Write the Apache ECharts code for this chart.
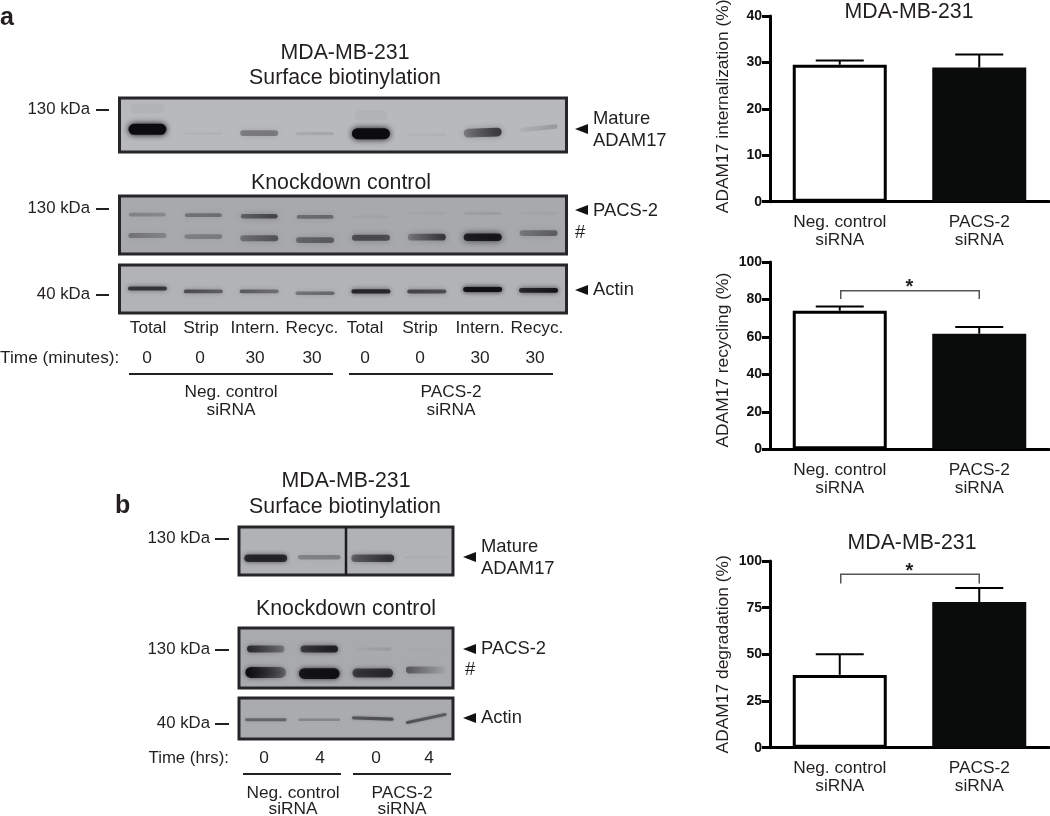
<!DOCTYPE html>
<html><head><meta charset="utf-8">
<style>html,body{margin:0;padding:0;background:#fff}#c{width:1050px;height:816px}</style>
<script src="https://cdn.jsdelivr.net/npm/echarts@6/dist/echarts.min.js"></script>
</head><body><div id="c"></div>
<script>
// ---------- bar chart data ----------
var groups = ['Neg. control\nsiRNA', 'PACS-2\nsiRNA'];
var internalizationMean = [29.5, 28.9];
var internalizationErrTop = [30.4, 31.7];
var recyclingMean = [74, 61.7];
var recyclingErrTop = [76.2, 65.3];
var degradationMean = [39, 78];
var degradationErrTop = [50, 85.5];
var recyclingBracket = [84.7, 80.2];
var degradationBracket = [92.9, 88];

// ---------- blot lanes and band readings (0-1 darkness at band's left/right, % down the panel) ----------
var lanesA = ['L1','L2','L3','L4','L5','L6','L7','L8'];
var lanesB = ['L1','L2','L3','L4'];
var a1Pos = [58, 66, 65, 66, 66, 68, 64, 56];
var a1Left = [1, .06, .4, .14, 1, .05, .38, .08];
var a1Right = [1, .08, .42, .16, 1, .08, .75, .26];
var a1Tilt = [0, 0, 0, 0, 0, 0, 2, 6];
var a1HazePos = [20, 20, 20, 20, 32, 32, 32, 32];
var a1Haze = [.035, 0, 0, 0, .035, 0, 0, 0];
var a2UpperPos = [32, 33, 35, 36, 36, 30, 30, 30];
var a2UpperLeft = [.34, .42, .5, .45, .06, .05, .12, .06];
var a2UpperRight = [.28, .45, .68, .48, .08, .08, .14, .08];
var a2LowerPos = [68, 70, 73, 76, 72, 71, 71, 64];
var a2LowerLeft = [.42, .34, .42, .48, .62, .36, .85, .38];
var a2LowerRight = [.3, .38, .6, .55, .62, .75, .92, .55];
var a3Pos = [49, 55, 55, 59, 55, 55, 51, 53];
var a3Left = [.72, .62, .55, .4, .8, .65, .95, .78];
var a3Right = [.72, .5, .42, .48, .8, .6, .95, .92];
var b1Pos = [65, 63, 65, 63];
var b1Left = [.8, .35, .5, .08];
var b1Right = [.8, .38, .78, .05];
var b2UpperPos = [35, 35, 35, 35];
var b2UpperLeft = [.8, .65, .03, .03];
var b2UpperRight = [.35, .85, .16, .02];
var b2LowerPos = [74, 76, 75, 70];
var b2LowerLeft = [1, .88, .65, .55];
var b2LowerRight = [.4, .95, .78, .04];
var b3Pos = [53, 53, 50, 50];
var b3Left = [.45, .28, .52, .55];
var b3Right = [.45, .28, .58, .48];
var b3Tilt = [0, 0, -2, 12];

// ---------- text ----------
var laneLabelsA = ['Total','Strip','Intern.','Recyc.','Total','Strip','Intern.','Recyc.'];
var timeMinutes = ['0','0','30','30','0','0','30','30'];
var timeHours = ['0','4','0','4'];
var FONT = '"Liberation Sans", Arial, sans-serif';
var INK = '#231f20';

var grids = [], xAxes = [], yAxes = [], series = [], graphics = [];

function text(s, x, y, size, align, weight) {
  graphics.push({ type: 'text', x: x, y: y, silent: true, style: {
    text: s, fill: INK, font: (weight || 'normal') + ' ' + size + 'px ' + FONT,
    textAlign: align || 'center', align: align || 'center',
    textVerticalAlign: 'middle', verticalAlign: 'middle' } });
}
function rule(x1, x2, y, w) {
  graphics.push({ type: 'line', silent: true, shape: { x1: x1, y1: y, x2: x2, y2: y },
    style: { stroke: INK, lineWidth: w || 2 } });
}
function arrow(x, y) {
  graphics.push({ type: 'polygon', silent: true,
    shape: { points: [[x, y], [x + 13, y - 5], [x + 13, y + 5]] }, style: { fill: '#111' } });
}

// ---------- blot panels ----------
function addPanel(box, lanes, bg, rows, divider) {
  var i = grids.length;
  grids.push({ left: box[0], top: box[1], width: box[2], height: box[3], show: true,
    outerBoundsMode: 'none', backgroundColor: bg, borderColor: '#26262a', borderWidth: 3 });
  xAxes.push({ type: 'category', gridIndex: i, data: lanes, show: false });
  yAxes.push({ type: 'value', gridIndex: i, min: 0, max: 100, inverse: true, show: false });
  rows.forEach(function (r) {
    var d = lanes.map(function (_, k) {
      return [k, r.pos[k], r.left[k], r.right[k], r.tilt ? r.tilt[k] : 0];
    }).filter(function (p) { return p[2] > 0; });
    series.push({ type: 'custom', xAxisIndex: i, yAxisIndex: i, data: d, silent: true, clip: true,
      renderItem: function (params, api) {
        var c = api.coord([api.value(0), api.value(1)]);
        var band = api.size([1, 0])[0];
        var w = band * r.width;
        var a = api.value(2), b = api.value(3), m = Math.max(a, b);
        var h = r.base + r.gain * m;
        var la = Math.pow(a, r.soft), lb = Math.pow(b, r.soft);
        return { type: 'rect', x: c[0], y: c[1], originX: 0, originY: 0,
          rotation: api.value(4) * Math.PI / 180,
          shape: { x: -w / 2, y: -h / 2, width: w, height: h, r: h / 2 },
          style: {
            fill: new echarts.graphic.LinearGradient(0, 0, 1, 0, [
              { offset: 0, color: 'rgba(12,12,14,' + la + ')' },
              { offset: 1, color: 'rgba(12,12,14,' + lb + ')' }]),
            shadowBlur: r.blur, shadowColor: 'rgba(12,12,14,' + (la + lb) / 2 + ')' } };
      } });
  });
  if (divider) {
    series.push({ type: 'custom', xAxisIndex: i, yAxisIndex: i, data: [[1, 0, 100]], silent: true,
      renderItem: function (params, api) {
        var half = api.size([1, 0])[0] / 2;
        var p = api.coord([api.value(0), api.value(1)]);
        var q = api.coord([api.value(0), api.value(2)]);
        return { type: 'line', shape: { x1: p[0] + half, y1: p[1], x2: q[0] + half, y2: q[1] },
          style: { stroke: '#1c1c1e', lineWidth: 2.5 } };
      } });
  }
}
var AX = 119.5, AW = 447;
addPanel([AX, 98, AW, 54], lanesA, '#b8b9bb', [
  { pos: a1HazePos, left: a1Haze, right: a1Haze, width: .6, base: 10, gain: 0, blur: 10, soft: 1 },
  { pos: a1Pos, left: a1Left, right: a1Right, tilt: a1Tilt, width: .68, base: 2, gain: 9, blur: 6, soft: 1.25 }]);
addPanel([AX, 196, AW, 58], lanesA, '#a8a9ab', [
  { pos: a2UpperPos, left: a2UpperLeft, right: a2UpperRight, width: .66, base: 3, gain: 2, blur: 6, soft: 1.3 },
  { pos: a2LowerPos, left: a2LowerLeft, right: a2LowerRight, width: .68, base: 3, gain: 5, blur: 7, soft: 1.3 }]);
addPanel([AX, 265, AW, 48], lanesA, '#b2b3b5', [
  { pos: a3Pos, left: a3Left, right: a3Right, width: .7, base: 2, gain: 3, blur: 5, soft: 1.2 }]);
var BX = 239, BW = 214;
addPanel([BX, 527, BW, 48], lanesB, '#b1b2b4', [
  { pos: b1Pos, left: b1Left, right: b1Right, width: .8, base: 2, gain: 7, blur: 5, soft: 1.3 }], true);
addPanel([BX, 628, BW, 60], lanesB, '#a9aaac', [
  { pos: b2UpperPos, left: b2UpperLeft, right: b2UpperRight, width: .7, base: 2, gain: 6, blur: 5, soft: 1.2 },
  { pos: b2LowerPos, left: b2LowerLeft, right: b2LowerRight, width: .76, base: 2, gain: 9, blur: 5, soft: 1.2 }]);
addPanel([BX, 698, BW, 41], lanesB, '#aaabad', [
  { pos: b3Pos, left: b3Left, right: b3Right, tilt: b3Tilt, width: .78, base: 1.5, gain: 3, blur: 3, soft: 1.2 }]);

// ---------- bar charts ----------
function addBars(top, height, max, step, name, mean, errTop, bracket, namePad) {
  var i = grids.length;
  grids.push({ left: 770, top: top, width: 279, height: height, outerBoundsMode: 'none' });
  xAxes.push({ type: 'category', gridIndex: i, data: groups,
    axisLine: { lineStyle: { color: '#000', width: 3 } }, axisTick: { show: false },
    axisLabel: { color: INK, fontFamily: FONT, fontSize: 17.3, lineHeight: 18, margin: 12, interval: 0 } });
  yAxes.push({ type: 'value', gridIndex: i, min: 0, max: max, interval: step, splitLine: { show: false },
    name: name, nameLocation: 'middle', nameRotate: 90, nameGap: 38,
    nameTextStyle: { color: INK, fontFamily: FONT, fontSize: 17.4, padding: namePad },
    axisLine: { show: true, lineStyle: { color: '#000', width: 3 } },
    axisTick: { show: true, length: 8, lineStyle: { color: '#000', width: 3 } },
    axisLabel: { color: '#111', fontFamily: FONT, fontWeight: 'bold', fontSize: 14, margin: 8 } });
  series.push({ type: 'bar', xAxisIndex: i, yAxisIndex: i, barWidth: 94, silent: true,
    data: mean.map(function (v, k) {
      return { value: v, itemStyle: { color: k ? '#0a0c0c' : '#fff', borderColor: k ? '#0a0c0c' : '#000', borderWidth: 3 } };
    }) });
  series.push({ type: 'custom', xAxisIndex: i, yAxisIndex: i, z: 1, silent: true,
    data: mean.map(function (v, k) { return [k, v, errTop[k]]; }),
    renderItem: function (params, api) {
      var a = api.coord([api.value(0), api.value(1)]);
      var b = api.coord([api.value(0), api.value(2)]);
      var st = { stroke: '#000', lineWidth: 2, fill: null };
      return { type: 'group', children: [
        { type: 'line', shape: { x1: a[0], y1: a[1], x2: b[0], y2: b[1] }, style: st },
        { type: 'line', shape: { x1: b[0] - 24, y1: b[1], x2: b[0] + 24, y2: b[1] }, style: st }] };
    } });
  if (bracket) {
    series.push({ type: 'custom', xAxisIndex: i, yAxisIndex: i, silent: true,
      data: [[0, 1, bracket[0], bracket[1]]],
      renderItem: function (params, api) {
        var l = api.coord([api.value(0), api.value(2)]);
        var r = api.coord([api.value(1), api.value(2)]);
        var yLeg = api.coord([api.value(0), api.value(3)])[1];
        return { type: 'group', children: [
          { type: 'polyline', shape: { points: [[l[0] + 1, yLeg], [l[0] + 1, l[1]], [r[0], l[1]], [r[0], yLeg]] },
            style: { stroke: '#555', lineWidth: 1.5, fill: null } },
          { type: 'text', x: (l[0] + r[0]) / 2, y: l[1] - 3,
            style: { text: '*', fill: INK, font: 'bold 20px ' + FONT, align: 'center', verticalAlign: 'middle' } }] };
      } });
  }
}
addBars(16, 185.7, 40, 10, 'ADAM17 internalization (%)', internalizationMean, internalizationErrTop, null, [0, 0, 0, 5]);
addBars(262, 187.3, 100, 20, 'ADAM17 recycling (%)', recyclingMean, recyclingErrTop, recyclingBracket, [0, 9, 0, 0]);
addBars(561, 186.7, 100, 25, 'ADAM17 degradation (%)', degradationMean, degradationErrTop, degradationBracket, 0);

// ---------- annotations ----------
var T = 21.3, S = 17.3, K = 16.8, N = 18.4;
text('a', 0, 18, 25, 'left', 'bold');
text('b', 115, 506, 25, 'left', 'bold');
text('MDA-MB-231', 345, 53, T);
text('Surface biotinylation', 345, 78, T);
text('Knockdown control', 341, 183, T);
text('MDA-MB-231', 909, 12, T);
text('MDA-MB-231', 912, 543, T);
text('130 kDa', 90, 109, K, 'right'); rule(96, 109, 110);
text('130 kDa', 90, 208, K, 'right'); rule(96, 109, 209);
text('40 kDa', 90, 294, K, 'right'); rule(96, 109, 295);
arrow(575, 129); text('Mature', 593, 119, N, 'left'); text('ADAM17', 593, 141, N, 'left');
arrow(575, 210); text('PACS-2', 593, 211, N, 'left');
text('#', 580, 233, N);
arrow(575, 290); text('Actin', 593, 290, N, 'left');
var laneX = [148, 201, 255, 312, 365, 420, 480, 537];
laneLabelsA.forEach(function (s, k) { text(s, laneX[k], 328, S); });
text('Time (minutes):', 0, 358, S, 'left');
var timeX = [147, 200, 255, 312, 365, 420, 480, 535];
timeMinutes.forEach(function (s, k) { text(s, timeX[k], 358, S); });
rule(129, 333, 374); rule(349, 553, 374);
text('Neg. control', 231, 392, S); text('siRNA', 231, 410, S);
text('PACS-2', 451, 392, S); text('siRNA', 451, 410, S);

text('MDA-MB-231', 346, 481, T);
text('Surface biotinylation', 345, 507, T);
text('Knockdown control', 346, 609, T);
text('130 kDa', 210, 538, K, 'right'); rule(215, 229, 539);
text('130 kDa', 210, 649, K, 'right'); rule(215, 229, 650);
text('40 kDa', 210, 723, K, 'right'); rule(215, 229, 724);
arrow(463, 557); text('Mature', 481, 547, N, 'left'); text('ADAM17', 481, 569, N, 'left');
arrow(463, 649); text('PACS-2', 481, 649, N, 'left');
text('#', 470, 670, N);
arrow(463, 718); text('Actin', 481, 718, N, 'left');
text('Time (hrs):', 229, 758, K, 'right');
var timeBX = [264, 320, 376, 429];
timeHours.forEach(function (s, k) { text(s, timeBX[k], 758, S); });
rule(243, 341, 774); rule(353, 451, 774);
text('Neg. control', 293, 793, S); text('siRNA', 293, 809, S);
text('PACS-2', 402, 793, S); text('siRNA', 402, 809, S);

var chart = echarts.init(document.getElementById('c'));
chart.setOption({ animation: false, backgroundColor: '#fff', grid: grids, xAxis: xAxes, yAxis: yAxes,
  series: series, graphic: graphics });
</script></body></html>
